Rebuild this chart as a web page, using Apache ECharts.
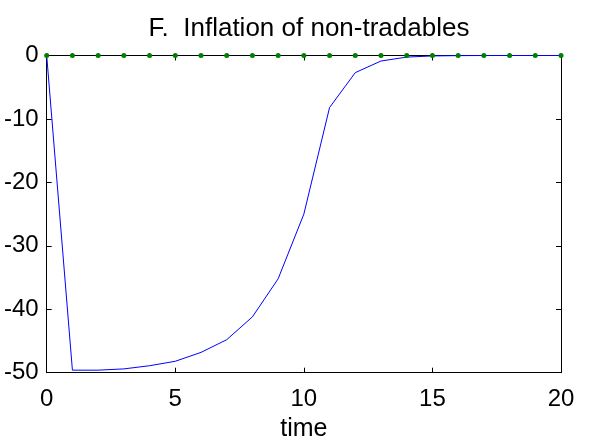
<!DOCTYPE html>
<html>
<head>
<meta charset="utf-8">
<script src="https://cdn.jsdelivr.net/npm/echarts@6/dist/echarts.min.js"></script>
<style>html,body{margin:0;padding:0;background:#fff}#c{width:589px;height:441px}</style>
</head>
<body>
<div id="c"></div>
<script>
const titleText = 'F.  Inflation of non-tradables';
const xName = 'time';
const time = [0,1,2,3,4,5,6,7,8,9,10,11,12,13,14,15,16,17,18,19,20];
const inflationNT = [0,-49.6,-49.6,-49.4,-48.9,-48.2,-46.8,-44.8,-41.2,-35.2,-25.0,-8.2,-2.7,-0.87,-0.25,-0.07,-0.02,0,0,0,0];
const zeroLine = [0,0,0,0,0,0,0,0,0,0,0,0,0,0,0,0,0,0,0,0,0];

const FONT = 'Liberation Sans, Arial, Helvetica, sans-serif';
const chart = echarts.init(document.getElementById('c'), null, {renderer:'canvas'});
const axisCommon = {
  type:'value', min:0, max:20, interval:5,
  axisLine:{show:true, onZero:false, lineStyle:{color:'#000', width:1}},
  axisTick:{show:true, inside:true, length:5, lineStyle:{color:'#000'}},
  splitLine:{show:false}
};
chart.setOption({
  animation:false,
  backgroundColor:'#fff',
  title:{text:titleText, left:304, top:11, textAlign:'center',
    textStyle:{fontFamily:FONT, fontSize:26, fontWeight:'normal', color:'#000'}},
  grid:{left:46.7, right:28, top:55.5, bottom:68.3, containLabel:false, outerBoundsMode:'none'},
  xAxis:[
    Object.assign({}, axisCommon, {position:'bottom', name:xName, nameLocation:'middle', nameGap:42,
      nameTextStyle:{fontFamily:FONT, fontSize:25, color:'#000'},
      axisLabel:{fontFamily:FONT, fontSize:24, color:'#000', margin:15}}),
    Object.assign({}, axisCommon, {position:'top', axisLabel:{show:false}})
  ],
  yAxis:[
    {type:'value', min:-50, max:0, interval:10, position:'left',
      axisLine:{show:true, onZero:false, lineStyle:{color:'#000', width:1}},
      axisTick:{show:true, inside:true, length:5, lineStyle:{color:'#000'}},
      splitLine:{show:false},
      axisLabel:{fontFamily:FONT, fontSize:24, color:'#000', margin:8}},
    {type:'value', min:-50, max:0, interval:10, position:'right',
      axisLine:{show:true, onZero:false, lineStyle:{color:'#000', width:1}},
      axisTick:{show:true, inside:true, length:5, lineStyle:{color:'#000'}},
      splitLine:{show:false}, axisLabel:{show:false}}
  ],
  series:[
    {type:'line', data:time.map((t,i)=>[t,inflationNT[i]]), showSymbol:false, symbol:'none',
      lineStyle:{color:'#0000ff', width:1}, z:3},
    {type:'line', data:time.map((t,i)=>[t,zeroLine[i]]), symbol:'circle', symbolSize:5,
      itemStyle:{color:'#008000'}, lineStyle:{width:0, opacity:0}, z:4}
  ]
});
</script>
</body>
</html>
